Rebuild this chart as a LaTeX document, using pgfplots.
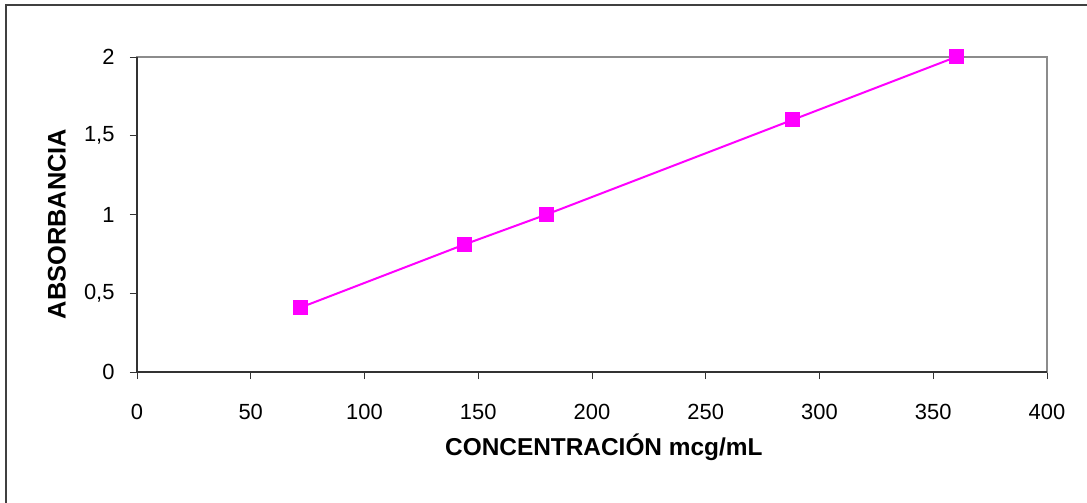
\documentclass[border=0pt]{standalone}
\usepackage{pgfplots}
\pgfplotsset{compat=1.18}
\usepackage{fontspec}
\setmainfont{Liberation Sans}
\definecolor{mag}{RGB}{255,0,255}
\begin{document}
\begin{tikzpicture}
\useasboundingbox (0,0) rectangle (1087bp,503bp);
\fill[white] (0,0) rectangle (1087bp,503bp);
\draw[black!75, line width=1.3bp] (6bp,0) -- (6bp,498bp) -- (1087bp,498bp);
\begin{axis}[
  at={(137bp,131bp)}, anchor=south west,
  width=910bp, height=315bp, scale only axis,
  xmin=0, xmax=400, ymin=0, ymax=2,
  xtick={0,50,...,400}, ytick={0,0.5,1,1.5,2},
  xtick pos=left, ytick pos=left,
  tick align=outside, major tick length=7bp,
  tick style={black!80, line width=0.9bp},
  axis line style={gray!90, line width=1.3bp},
  xticklabel style={font=\fontsize{22}{26}\selectfont, anchor=center, yshift=-33bp},
  yticklabel style={font=\fontsize{22}{26}\selectfont, anchor=east, xshift=-12bp},
  /pgf/number format/assume math mode=true,
  /pgf/number format/use comma,
  xlabel={CONCENTRACIÓN mcg/mL},
  ylabel={ABSORBANCIA},
  xlabel style={font=\fontsize{24.5}{28}\selectfont\bfseries, at={(axis description cs:0.513,-0.238)}, anchor=center},
  ylabel style={font=\fontsize{25.5}{28}\selectfont\bfseries, at={(axis description cs:-0.088,0.47)}, anchor=center},
  clip=false,
]
\draw[black!80, line width=1.3bp] (rel axis cs:0,1) -- (rel axis cs:0,0) -- (rel axis cs:1,0);
\addplot[color=mag, line width=2bp, mark=square*, mark size=6.5bp, mark options={fill=mag, draw=mag}]
  coordinates {(72,0.41) (144,0.81) (180,1.0) (288,1.6) (360,2.0)};
\end{axis}
\end{tikzpicture}
\end{document}
